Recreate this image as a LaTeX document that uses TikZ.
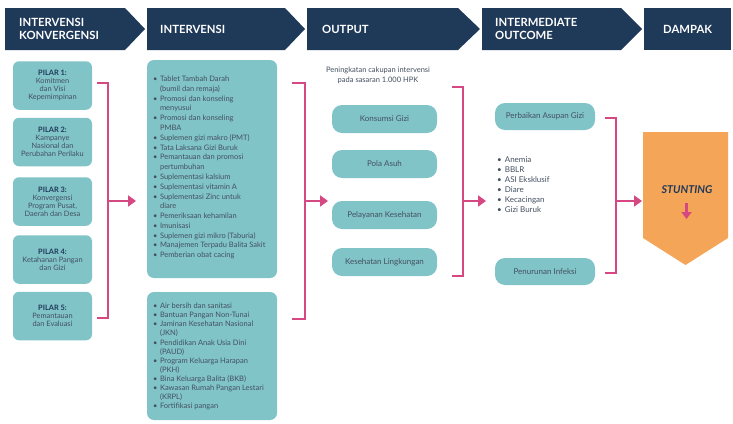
\documentclass[tikz,border=0pt]{standalone}
\usepackage{fontspec}
\setmainfont{Lato}
\usetikzlibrary{arrows.meta}
\definecolor{navy}{RGB}{31,57,89}
\definecolor{boxteal}{RGB}{128,196,200}
\definecolor{pinkc}{RGB}{214,72,130}
\definecolor{orangec}{RGB}{245,165,88}
\definecolor{txt}{RGB}{68,80,96}
\begin{document}
\begin{tikzpicture}[x=1pt,y=-1pt,
  hdr/.style={fill=navy,draw=none},
  hdrtext/.style={text=white,font=\fontsize{11.3}{12.5}\selectfont\bfseries,align=left,anchor=west,inner sep=0},
  pillar/.style={fill=boxteal,rounded corners=6pt,minimum width=79pt,minimum height=48.5pt,align=center,text=txt,font=\fontsize{7.4}{7.9}\selectfont,inner sep=0},
  bigbox/.style={fill=boxteal,rounded corners=7pt,minimum width=130pt,inner sep=0},
  listtext/.style={text=txt,anchor=north west,inner sep=0,align=left},
  outbox/.style={fill=boxteal,rounded corners=10pt,minimum width=105pt,minimum height=28pt,text=txt,font=\fontsize{8}{9}\selectfont,inner sep=0},
  midbox/.style={fill=boxteal,rounded corners=10pt,minimum width=100pt,minimum height=27pt,text=txt,font=\fontsize{8}{9}\selectfont,inner sep=0},
  brk/.style={draw=pinkc,line width=2pt},
  parr/.style={draw=pinkc,fill=pinkc,line width=2.4pt,-{Triangle[width=11pt,length=8pt]}}
]
\useasboundingbox (0,0) rectangle (733,423);
\fill[white] (0,0) rectangle (733,423);

% headers
\fill[hdr] (5,8) -- (125,8) -- (145,29) -- (125,50) -- (5,50) -- cycle;
\fill[hdr] (147,8) -- (285,8) -- (305,29) -- (285,50) -- (147,50) -- cycle;
\fill[hdr] (307,8) -- (458,8) -- (480,29) -- (458,50) -- (307,50) -- cycle;
\fill[hdr] (482,8) -- (621,8) -- (642,29) -- (621,50) -- (482,50) -- cycle;
\fill[hdr] (644,8) -- (731,8) -- (731,50) -- (644,50) -- cycle;
\node[hdrtext] (h1) at (19,29) {INTERVENSI\\KONVERGENSI};
\node[hdrtext] (h2) at (160,29.5) {INTERVENSI};
\node[hdrtext] (h3) at (322,29.5) {OUTPUT};
\node[hdrtext] (h4) at (495,29) {INTERMEDIATE\\OUTCOME};
\node[hdrtext] (h5) at (663,29.5) {DAMPAK};

% pillars
\node[pillar] (p1) at (52.5,85.5) {\textbf{\color{navy}PILAR 1:}\\Komitmen\\dan Visi\\Kepemimpinan};
\node[pillar] (p2) at (52.5,142) {\textbf{\color{navy}PILAR 2:}\\Kampanye\\Nasional dan\\Perubahan Perilaku};
\node[pillar] (p3) at (52.5,201.5) {\textbf{\color{navy}PILAR 3:}\\Konvergensi\\Program Pusat,\\Daerah dan Desa};
\node[pillar] (p4) at (52.5,259.5) {\textbf{\color{navy}PILAR 4:}\\Ketahanan Pangan\\dan Gizi};
\node[pillar] (p5) at (52.5,316) {\textbf{\color{navy}PILAR 5:}\\Pemantauan\\dan Evaluasi};

% intervention boxes
\node[bigbox,minimum height=218pt] (ia) at (212,169) {};
\node[bigbox,minimum height=128pt] (ib) at (212,356) {};
\node[listtext] (iat) at (153,74.6) {\fontsize{7.5}{9.78}\selectfont
\begin{tabular}{@{}l@{\hspace{2.5pt}}l@{}}
\textbullet & Tablet Tambah Darah\\
 & (bumil dan remaja)\\
\textbullet & Promosi dan konseling\\
 & menyusui\\
\textbullet & Promosi dan konseling\\
 & PMBA\\
\textbullet & Suplemen gizi makro (PMT)\\
\textbullet & Tata Laksana Gizi Buruk\\
\textbullet & Pemantauan dan promosi\\
 & pertumbuhan\\
\textbullet & Suplementasi kalsium\\
\textbullet & Suplementasi vitamin A\\
\textbullet & Suplementasi Zinc untuk\\
 & diare\\
\textbullet & Pemeriksaan kehamilan\\
\textbullet & Imunisasi\\
\textbullet & Suplemen gizi mikro (Taburia)\\
\textbullet & Manajemen Terpadu Balita Sakit\\
\textbullet & Pemberian obat cacing
\end{tabular}};
\node[listtext] (ibt) at (153,302.1) {\fontsize{7.5}{9.1}\selectfont
\begin{tabular}{@{}l@{\hspace{2.5pt}}l@{}}
\textbullet & Air bersih dan sanitasi\\
\textbullet & Bantuan Pangan Non-Tunai\\
\textbullet & Jaminan Kesehatan Nasional\\
 & (JKN)\\
\textbullet & Pendidikan Anak Usia Dini\\
 & (PAUD)\\
\textbullet & Program Keluarga Harapan\\
 & (PKH)\\
\textbullet & Bina Keluarga Balita (BKB)\\
\textbullet & Kawasan Rumah Pangan Lestari\\
 & (KRPL)\\
\textbullet & Fortifikasi pangan
\end{tabular}};

% output
\node[text=txt,align=center,font=\fontsize{7.5}{10}\selectfont,inner sep=0] (ot) at (378,75) {Peningkatan cakupan intervensi\\pada sasaran 1.000 HPK};
\node[outbox] (o1) at (384.5,119) {Konsumsi Gizi};
\node[outbox] (o2) at (384.5,164) {Pola Asuh};
\node[outbox] (o3) at (384.5,215) {Pelayanan Kesehatan};
\node[outbox] (o4) at (384.5,262) {Kesehatan Lingkungan};

% intermediate
\node[midbox] (m1) at (545,116.5) {Perbaikan Asupan Gizi};
\node[midbox] (m2) at (545,271.5) {Penurunan Infeksi};
\node[listtext] (mt) at (497,155.5) {\fontsize{8}{10}\selectfont
\begin{tabular}{@{}l@{\hspace{3pt}}l@{}}
\textbullet & Anemia\\
\textbullet & BBLR\\
\textbullet & ASI Eksklusif\\
\textbullet & Diare\\
\textbullet & Kecacingan\\
\textbullet & Gizi Buruk
\end{tabular}};

% dampak
\fill[orangec] (643,132) -- (728,132) -- (728,238) -- (685.5,265) -- (643,238) -- cycle;
\node[text=navy,font=\fontsize{10.8}{12}\selectfont\bfseries\itshape,inner sep=0] (st) at (687,190) {STUNTING};
\coordinate (sa) at (686.5,203);
\coordinate (sb) at (686.5,219);
\draw[draw=pinkc,fill=pinkc,line width=2.2pt,-{Triangle[width=10pt,length=7pt]}] (sa) -- (sb);

% brackets and arrows
\coordinate (b1a) at (97,83); \coordinate (b1b) at (108,83);
\coordinate (b1c) at (108,318); \coordinate (b1d) at (97,318);
\coordinate (b1m) at (108,201); \coordinate (b1e) at (136,201);
\draw[brk] (b1a) -- (b1b) -- (b1c) -- (b1d);
\draw[parr] (b1m) -- (b1e);

\coordinate (b2a) at (292,83); \coordinate (b2b) at (305,83);
\coordinate (b2c) at (305,319); \coordinate (b2d) at (292,319);
\coordinate (b2m) at (305,201); \coordinate (b2e) at (328,201);
\draw[brk] (b2a) -- (b2b) -- (b2c) -- (b2d);
\draw[parr] (b2m) -- (b2e);

\coordinate (b3a) at (452,87); \coordinate (b3b) at (463,87);
\coordinate (b3c) at (463,276); \coordinate (b3d) at (452,276);
\coordinate (b3m) at (463,201); \coordinate (b3e) at (486,201);
\draw[brk] (b3a) -- (b3b) -- (b3c) -- (b3d);
\draw[parr] (b3m) -- (b3e);

\coordinate (b4a) at (605,118); \coordinate (b4b) at (616,118);
\coordinate (b4c) at (616,273); \coordinate (b4d) at (605,273);
\coordinate (b4m) at (616,201); \coordinate (b4e) at (642,201);
\draw[brk] (b4a) -- (b4b) -- (b4c) -- (b4d);
\draw[parr] (b4m) -- (b4e);
\end{tikzpicture}
\end{document}
